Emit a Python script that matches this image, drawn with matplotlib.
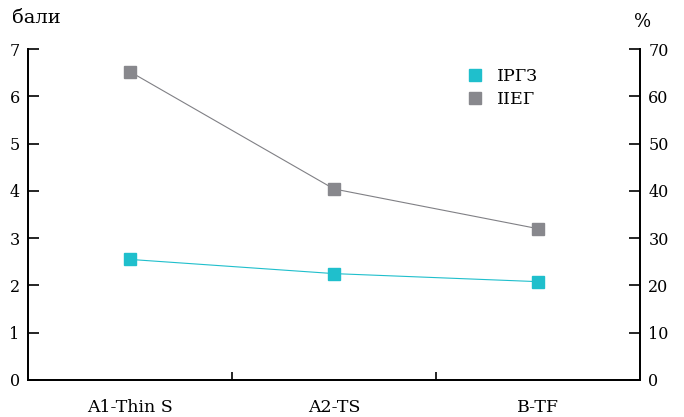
import matplotlib.pyplot as plt

categories = ['A1-Thin S', 'A2-TS', 'B-TF']
irgz = [2.55, 2.25, 2.08]        # бали, left axis
iieg = [65.2, 40.4, 32.0]        # %, right axis

plt.rcParams['font.family'] = ['DejaVu Serif']

fig = plt.figure(figsize=(6.84, 4.17), dpi=100)
ax = fig.add_axes([28 / 684, 37 / 417, 612 / 684, 331 / 417])
ax2 = ax.twinx()

x = range(len(categories))
ax.plot(x, irgz, color='#1fbfcc', lw=0.8, marker='s', ms=8, label='ІРГЗ', zorder=3)
ax2.plot(x, iieg, color='#808085', lw=0.8, marker='s', ms=8,
         markerfacecolor='#88888d', markeredgecolor='#88888d', label='ІІЕГ')

ax.set_xlim(-0.5, 2.5)
ax.set_ylim(0, 7)
ax2.set_ylim(0, 70)
ax.set_yticks(range(8))
ax2.set_yticks(range(0, 80, 10))

ax.set_xticks([0.5, 1.5])
ax.set_xticklabels([])
ax.set_xticks(list(x), categories, minor=True)
ax.tick_params(axis='x', which='minor', length=0, pad=14, labelsize=12.5)
ax.tick_params(axis='x', which='major', direction='in', length=6, width=1.2)
ax.tick_params(axis='y', direction='in', length=8, width=1.2, labelsize=11.5, pad=6)
ax2.tick_params(axis='y', direction='in', length=8, width=1.2, labelsize=11.5, pad=6)

for a in (ax, ax2):
    a.spines['top'].set_visible(False)
    for s in ('left', 'right', 'bottom'):
        a.spines[s].set_linewidth(1.3)

fig.text(12 / 684, 1 - 18 / 417, 'бали', fontsize=14, va='center')
fig.text(643 / 684, 1 - 22 / 417, '%', fontsize=13, va='center', ha='center')

h1, l1 = ax.get_legend_handles_labels()
h2, l2 = ax2.get_legend_handles_labels()
leg = ax.legend(h1 + h2, l1 + l2, loc='upper left', bbox_to_anchor=(0.69, 0.99),
                frameon=False, fontsize=12.5, handlelength=1.0, handletextpad=0.8,
                labelspacing=0.35)
for h in leg.legend_handles:
    h.set_linestyle('none')

fig.savefig('out.png', dpi=100)
